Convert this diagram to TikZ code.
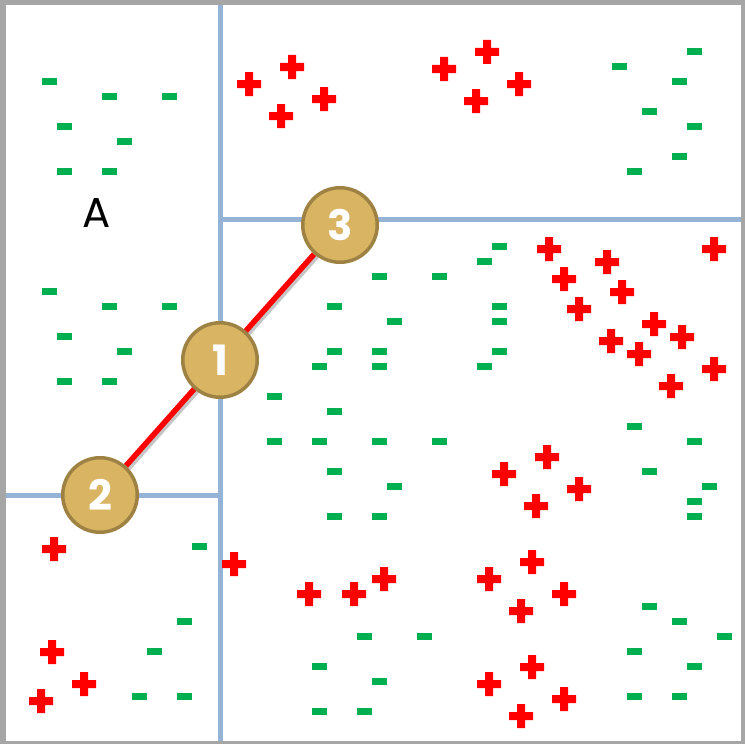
\documentclass[tikz,border=0pt]{standalone}
\usepackage{fontspec}
\usetikzlibrary{backgrounds}
\newfontfamily\diagfont{Poppins}
\definecolor{splitblue}{HTML}{95B3D7}
\definecolor{posred}{HTML}{FF0000}
\definecolor{neggreen}{HTML}{00B050}
\definecolor{goldfill}{HTML}{D9B462}
\definecolor{golddraw}{HTML}{9E8243}
\begin{document}
\begin{tikzpicture}[x=1bp,y=-1bp,
    cutline/.style={draw=splitblue,line width=5bp},
    neg/.style={fill=neggreen,inner sep=0pt,minimum width=15bp,minimum height=7bp},
    order/.style={circle,fill=goldfill,draw=golddraw,line width=3.5bp,minimum size=74.5bp,inner sep=0pt,
      text=white,font=\diagfont\bfseries\fontsize{42}{42}\selectfont}]

    \useasboundingbox (0,0) rectangle (745,744);

    \node[order] (c1) at (220,360) {1};
    \node[order] (c2) at (100,495) {2};
    \node[order] (c3) at (340,225) {3};

    \node[font=\diagfont\fontsize{42}{42}\selectfont] (regA) at (97,213) {A};

    \foreach \x/\y [count=\i] in {49.5/81.5,109.5/96.5,169.5/96.5,64.5/126.5,124.5/141.5,64.5/171.5,109.5/171.5,
        49.5/291.5,109.5/306.5,169.5/306.5,64.5/336.5,124.5/351.5,64.5/381.5,109.5/381.5,
        694.5/51.5,619.5/66.5,679.5/81.5,649.5/111.5,694.5/126.5,679.5/156.5,634.5/171.5,
        499.5/246.5,484.5/261.5,379.5/276.5,439.5/276.5,334.5/306.5,499.5/306.5,394.5/321.5,499.5/321.5,
        334.5/351.5,379.5/351.5,499.5/351.5,319.5/366.5,379.5/366.5,484.5/366.5,274.5/396.5,334.5/411.5,
        274.5/441.5,319.5/441.5,379.5/441.5,439.5/441.5,334.5/471.5,394.5/486.5,334.5/516.5,379.5/516.5,
        634.5/426.5,694.5/441.5,649.5/471.5,709.5/486.5,694.5/501.5,694.5/516.5,
        199.5/546.5,184.5/621.5,154.5/651.5,139.5/696.5,184.5/696.5,
        364.5/636.5,424.5/636.5,319.5/666.5,379.5/681.5,319.5/711.5,364.5/711.5,
        649.5/606.5,679.5/621.5,724.5/636.5,634.5/651.5,694.5/666.5,634.5/696.5,679.5/696.5}
        \node[neg] (m\i) at (\x,\y) {};

    \foreach \x/\y in {249/84,292/67,324/99,281/116, 444/69,487/52,519/84,476/101,
        549/249,607/262,564/279,622/292,579/309,654/324,682/337,611/341,639/354,714/249,714/369,671/386,
        547/457,504/474,579/489,536/506, 532/562,489/579,564/594,521/611,
        532/667,489/684,564/699,521/716, 234/564,384/579,309/594,354/594,
        54/549,52/652,84/684,41/701}
        \fill[posred] ({\x-12},{\y-4}) rectangle ({\x+12},{\y+4})
                      ({\x-4},{\y-12}) rectangle ({\x+4},{\y+12});

    \begin{scope}[on background layer]
        \fill[black!35] (0,0) rectangle (745,744);
        \fill[white] (6,5) rectangle (741,741);
        \draw[cutline] (220,5) -- (220,741);
        \draw[cutline] (220,219) -- (741,219);
        \draw[cutline] (6,495) -- (220,495);
        \draw[black!45,opacity=.5,line width=5bp] ([shift={(2.5,2.5)}]c2.center) -- ([shift={(2.5,2.5)}]c3.center);
        \draw[posred,line width=5.5bp] (c2) -- (c3);
    \end{scope}
\end{tikzpicture}
\end{document}
